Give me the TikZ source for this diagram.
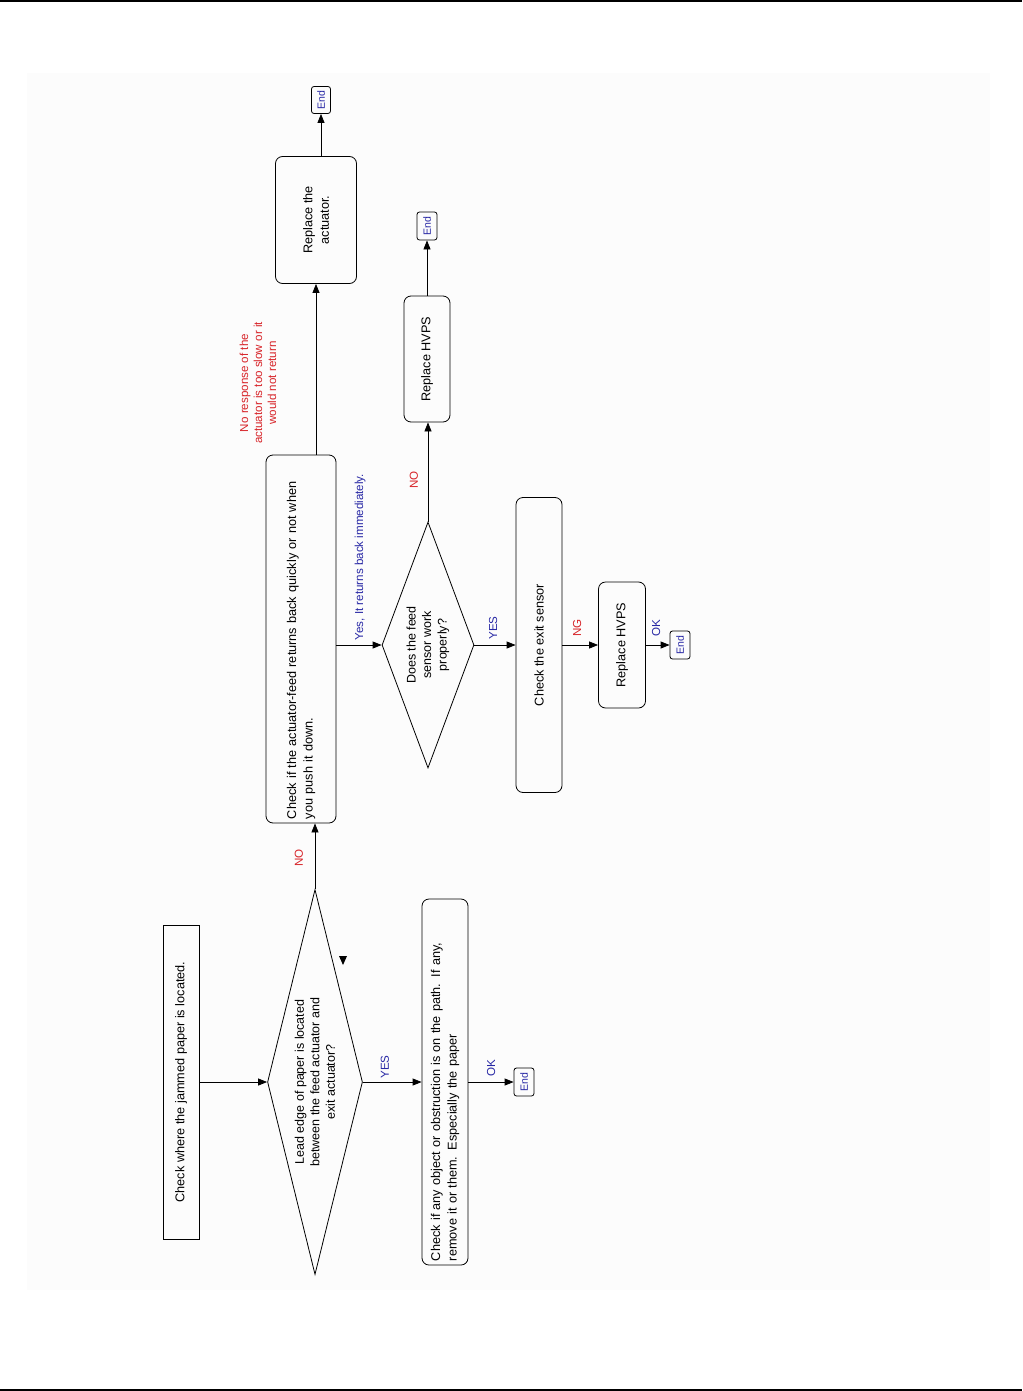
\documentclass[tikz,border=0pt]{standalone}
\usepackage{fontspec}
\setmainfont{Liberation Sans}
\usetikzlibrary{shapes.geometric, arrows.meta, positioning, calc}
\definecolor{nored}{RGB}{215,35,40}
\definecolor{yesblue}{RGB}{40,40,165}

\begin{document}
\begin{tikzpicture}[x=1pt, y=-1pt,
  box/.style={rectangle, draw, line width=0.8pt, rotate=90, align=center,
    inner sep=4pt, font=\fontsize{12.7}{16.5}\selectfont},
  rbox/.style={box, rounded corners=7pt},
  dec/.style={diamond, draw, line width=0.8pt, rotate=90, align=center,
    inner sep=1pt, font=\fontsize{12.5}{15.5}\selectfont},
  endbox/.style={rectangle, draw, rounded corners=2.5pt, line width=0.8pt, rotate=90,
    minimum width=28pt, minimum height=20pt, inner sep=1pt, text=yesblue,
    font=\fontsize{10.5}{12}\selectfont},
  nolbl/.style={rotate=90, text=nored, align=center, font=\fontsize{11.6}{14}\selectfont},
  yeslbl/.style={rotate=90, text=yesblue, align=center, font=\fontsize{11.6}{14}\selectfont},
  arr/.style={-{Triangle[length=9pt, width=7pt]}, line width=0.8pt}]
  \useasboundingbox (0,0) rectangle (1022,1391);
  \fill[gray!2] (27,73) rectangle (990,1290);
  \fill (0,0) rectangle (1022,2.5);
  \fill (0,1388.5) rectangle (1022,1391);

  \node[box, minimum width=314pt, minimum height=36pt] (start) at (181,1082)
    {Check where the jammed paper is located.};
  \node[dec, aspect=4, minimum width=385pt, minimum height=95pt] (dec1) at (315,1082)
    {Lead edge of paper is located\\between the feed actuator and\\exit actuator?};
  \node[rbox, minimum width=366pt, minimum height=46pt, text width=358pt, align=left] (clear) at (445,1082)
    {Check if any object or obstruction is on the path. If any,\\remove it or them. Especially the paper};
  \node[endbox] (end1) at (524,1082) {End};

  \node[rbox, minimum width=368pt, minimum height=70pt, text width=360pt, align=left] (chk) at (301,639)
    {Check if the actuator-feed returns back quickly or not when\\you push it down.};
  \node[rbox, minimum width=127pt, minimum height=81pt] (repl) at (316,220)
    {Replace the\\actuator.};
  \node[endbox, minimum width=27pt, minimum height=19pt] (end2) at (321,100) {End};

  \node[dec, aspect=2.7, minimum width=246pt, minimum height=92pt] (dec2) at (428,645)
    {Does the feed\\sensor work\\properly?};
  \node[rbox, minimum width=126pt, minimum height=46pt] (hvps1) at (427,359) {Replace HVPS};
  \node[endbox] (end3) at (427,226) {End};
  \node[rbox, minimum width=295pt, minimum height=46pt] (exit) at (539,645) {Check the exit sensor};
  \node[rbox, minimum width=126pt, minimum height=47pt] (hvps2) at (622,645) {Replace HVPS};
  \node[endbox] (end4) at (680,645) {End};

  \node[nolbl] (noa) at (299,858) {NO};
  \node[nolbl] (nob) at (258,383) {No response of the\\actuator is too slow or it\\would not return};
  \node[yeslbl] (yesa) at (360,557) {Yes, It returns back immediately.};
  \node[nolbl] (noc) at (414,480) {NO};
  \node[yeslbl] (yesb) at (493,628) {YES};
  \node[nolbl] (ng) at (577,628) {NG};
  \node[yeslbl] (oka) at (656,628) {OK};
  \node[yeslbl] (yesc) at (385,1067) {YES};
  \node[yeslbl] (okb) at (491,1068) {OK};

  \fill (339,956) -- (347,956) -- (343,965) -- cycle;

  \draw[arr] (start) -- (dec1);
  \draw[arr] (dec1) -- (clear);
  \draw[arr] (clear) -- (end1);
  \draw[arr] (dec1.east) -- (dec1.east |- chk.west);
  \draw[arr] (chk.east -| repl) -- (repl.west);
  \draw[arr] (repl.east -| end2) -- (end2);
  \draw[arr] (dec2.north -| chk.south) -- (dec2.north);
  \draw[arr] (dec2.east) -- (dec2.east |- hvps1.west);
  \draw[arr] (hvps1) -- (end3);
  \draw[arr] (dec2) -- (exit);
  \draw[arr] (exit) -- (hvps2);
  \draw[arr] (hvps2) -- (end4);
\end{tikzpicture}
\end{document}
